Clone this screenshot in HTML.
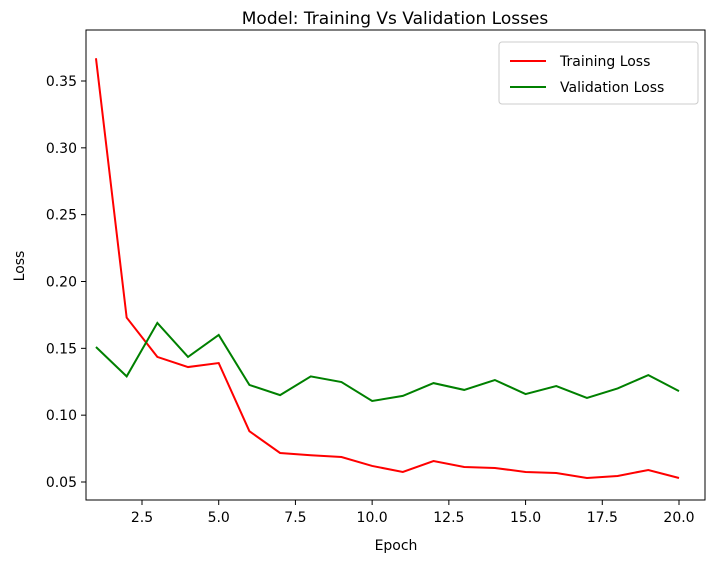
<!DOCTYPE html>
<html><head><meta charset="utf-8">
<style>
body{margin:0;background:#fff;}
svg{display:block;font-family:"DejaVu Sans","Liberation Sans",sans-serif;}
</style></head>
<body>
<svg id="chart" width="712" height="562" viewBox="0 0 712 562">
<text x="395" y="24" font-size="17" text-anchor="middle" fill="#000">Model: Training Vs Validation Losses</text>
<text x="396" y="550" font-size="14" text-anchor="middle">Epoch</text>
<text x="24" y="266" font-size="14" text-anchor="middle" transform="rotate(-90 24 266)">Loss</text>
<g id="xticks"></g>
<g id="yticks"></g>
<g id="lines"></g>
<rect x="86" y="30" width="619" height="470" fill="none" stroke="#000" stroke-width="1"/>
<g>
<rect x="499" y="42" width="199" height="62" rx="3" fill="#fff" stroke="#ccc"/>
<line x1="510" y1="61" x2="546" y2="61" stroke="red" stroke-width="2"/>
<text x="560" y="66" font-size="14">Training Loss</text>
<line x1="510" y1="87" x2="546" y2="87" stroke="green" stroke-width="2"/>
<text x="560" y="92" font-size="14">Validation Loss</text>
</g>
</svg>
<script>
const epochs=[1,2,3,4,5,6,7,8,9,10,11,12,13,14,15,16,17,18,19,20];
const trainLoss=[0.367,0.173,0.1436,0.136,0.139,0.088,0.0717,0.070,0.0687,0.062,0.0575,0.0657,0.0612,0.0605,0.0575,0.0567,0.053,0.0545,0.059,0.053];
const valLoss=[0.151,0.129,0.169,0.1436,0.160,0.1226,0.115,0.129,0.1248,0.1106,0.1144,0.124,0.1189,0.1263,0.1158,0.1218,0.1129,0.120,0.130,0.118];
const xTicks=[2.5,5.0,7.5,10.0,12.5,15.0,17.5,20.0];
const yTicks=[0.05,0.10,0.15,0.20,0.25,0.30,0.35];
const NS="http://www.w3.org/2000/svg";
function xs(v){return 142+(v-2.5)*(679-142)/17.5;}
function ys(v){return 482-(v-0.05)*(482-81)/0.30;}
const xg=document.getElementById('xticks'),yg=document.getElementById('yticks'),lg=document.getElementById('lines');
xTicks.forEach(t=>{
 const l=document.createElementNS(NS,'line');
 l.setAttribute('x1',xs(t));l.setAttribute('x2',xs(t));l.setAttribute('y1',500);l.setAttribute('y2',505);l.setAttribute('stroke','#000');
 
 
 xg.appendChild(l);
 const tx=document.createElementNS(NS,'text');
 tx.setAttribute('x',xs(t));tx.setAttribute('y',522);tx.setAttribute('font-size','14');tx.setAttribute('text-anchor','middle');
 tx.textContent=t.toFixed(1);
 
 
 xg.appendChild(tx);
});
yTicks.forEach(t=>{
 const l=document.createElementNS(NS,'line');
 l.setAttribute('x1',81);l.setAttribute('x2',86);l.setAttribute('y1',ys(t));l.setAttribute('y2',ys(t));l.setAttribute('stroke','#000');
 
 
 yg.appendChild(l);
 const tx=document.createElementNS(NS,'text');
 tx.setAttribute('x',77);tx.setAttribute('y',ys(t)+5);tx.setAttribute('font-size','14');tx.setAttribute('text-anchor','end');
 tx.textContent=t.toFixed(2);
 
 
 yg.appendChild(tx);
});
function drawLine(vals,color,name){
 const p=document.createElementNS(NS,'polyline');
 p.setAttribute('points',vals.map((v,i)=>xs(epochs[i])+','+ys(v)).join(' '));
 p.setAttribute('fill','none');p.setAttribute('stroke',color);p.setAttribute('stroke-width','2');
 
 
 lg.appendChild(p);
}
drawLine(trainLoss,'red','training-loss-line');
drawLine(valLoss,'green','validation-loss-line');
</script>
</body></html>
